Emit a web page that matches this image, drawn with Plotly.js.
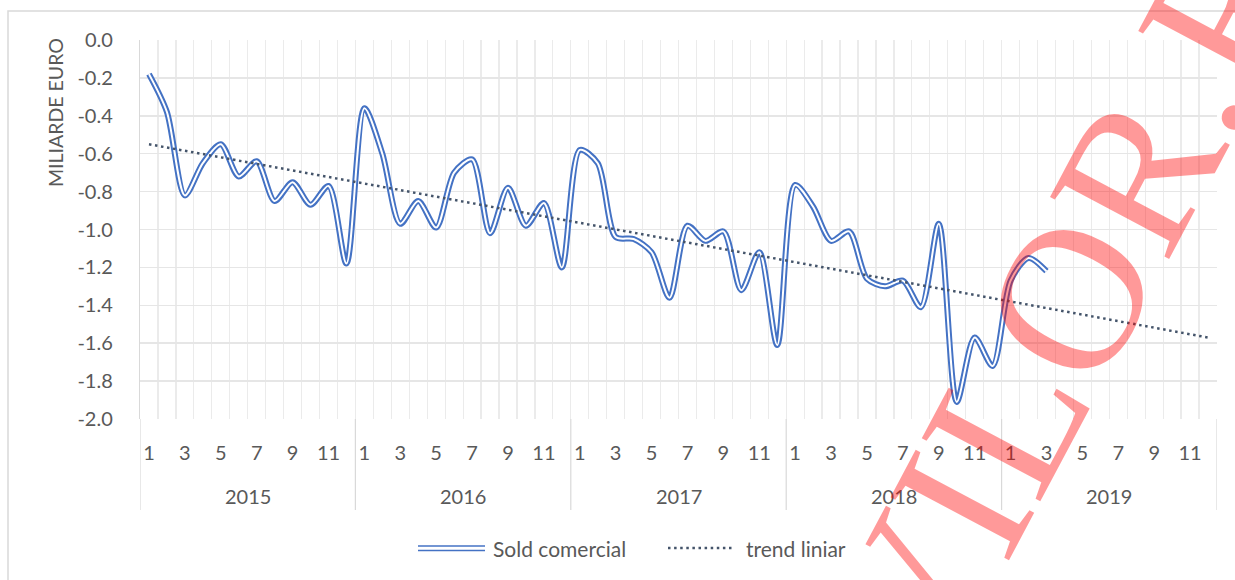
<!DOCTYPE html>
<html>
<head>
<meta charset="utf-8">
<script src="https://cdn.plot.ly/plotly-3.0.1.min.js"></script>
<style>html,body{margin:0;padding:0;background:#fff;}#chart{width:1235px;height:580px;}</style>
</head>
<body>
<div id="chart"></div>
<script>
// ---- data ----
const years = ['2015', '2016', '2017', '2018', '2019'];
const monthTickLabels = ['1', '3', '5', '7', '9', '11'];
const soldComercial = [
  -0.18, -0.38, -0.82, -0.65, -0.55, -0.72, -0.64, -0.85, -0.75, -0.87, -0.77, -1.18,
  -0.36, -0.60, -0.97, -0.85, -0.99, -0.70, -0.63, -1.02, -0.78, -0.98, -0.86, -1.20,
  -0.58, -0.65, -1.04, -1.05, -1.12, -1.36, -0.98, -1.06, -1.01, -1.32, -1.12, -1.61,
  -0.765, -0.88, -1.06, -1.01, -1.26, -1.30, -1.27, -1.41, -0.97, -1.91, -1.57, -1.72,
  -1.27, -1.15, -1.22
];
const trendMonths = [1, 60];
const trendLiniar = [-0.55, -1.57];
const yTickVals = [0, -0.2, -0.4, -0.6, -0.8, -1.0, -1.2, -1.4, -1.6, -1.8, -2.0];
const yTickText = ['0.0', '-0.2', '-0.4', '-0.6', '-0.8', '-1.0', '-1.2', '-1.4', '-1.6', '-1.8', '-2.0'];
const seriesNames = ['Sold comercial', 'trend liniar'];
const yTitle = 'MILIARDE EURO';
const watermark = 'VILOR.RO';

// ---- derived positions ----
const monthsPerYear = 12;
const totalMonths = years.length * monthsPerYear;
const xData = soldComercial.map((_, i) => i + 1);
const xTickVals = [], xTickText = [];
years.forEach((y, yi) => monthTickLabels.forEach(m => { xTickVals.push(yi * 12 + Number(m)); xTickText.push(m); }));
const boundaries = [];
for (let i = 0; i <= totalMonths; i++) boundaries.push(i + 0.5);

// pixel helpers for paper coords (plot area: x 140..1217, y 40..419)
const L = 140, R = 1217, T = 40, B = 419;
const px = v => (v - L) / (R - L);
const py = v => (B - v) / (B - T);

const txtColor = '#595959';
const font = 'Lato, "Open Sans", sans-serif';
const blue = '#4472C4';

const traces = [
  { x: xData, y: soldComercial, type: 'scatter', mode: 'lines', name: seriesNames[0],
    line: { color: blue, width: 6, shape: 'spline', smoothing: 0.8 }, showlegend: false, hoverinfo: 'skip' },
  { x: xData, y: soldComercial, type: 'scatter', mode: 'lines', name: seriesNames[0] + ' inner',
    line: { color: '#ffffff', width: 2, shape: 'spline', smoothing: 0.8 }, showlegend: false, hoverinfo: 'skip' },
  { x: trendMonths, y: trendLiniar, type: 'scatter', mode: 'lines', name: seriesNames[1],
    line: { color: '#44546A', width: 2.5, dash: '2.5px,3.6px' }, showlegend: false, hoverinfo: 'skip' }
];

const shapes = [];
// outer chart frame
shapes.push({ type: 'rect', xref: 'paper', yref: 'paper', x0: px(8), x1: px(1245), y0: py(600), y1: py(11),
  line: { color: '#d9d9d9', width: 1.5 }, layer: 'below' });
// year separators
for (let i = 0; i <= years.length; i++) {
  shapes.push({ type: 'line', xref: 'x', yref: 'paper', x0: i * 12 + 0.5, x1: i * 12 + 0.5, y0: 0, y1: py(510),
    line: { color: '#d9d9d9', width: 1.2 }, layer: 'below' });
}
// legend symbols
shapes.push({ type: 'line', xref: 'paper', yref: 'paper', x0: px(418), x1: px(485), y0: py(546), y1: py(546), line: { color: blue, width: 1.6 } });
shapes.push({ type: 'line', xref: 'paper', yref: 'paper', x0: px(418), x1: px(485), y0: py(550.5), y1: py(550.5), line: { color: blue, width: 1.6 } });
shapes.push({ type: 'line', xref: 'paper', yref: 'paper', x0: px(668), x1: px(734), y0: py(548), y1: py(548), line: { color: '#44546A', width: 2.5, dash: '2.5px,3.6px' } });

const annotations = [];
years.forEach((y, i) => annotations.push({ text: y, xref: 'x', yref: 'paper', x: i * 12 + 6.5, y: py(496),
  showarrow: false, xanchor: 'center', yanchor: 'middle', font: { family: font, size: 20, color: txtColor } }));
annotations.push({ text: yTitle, xref: 'paper', yref: 'paper', x: px(55), y: py(113), textangle: -90,
  showarrow: false, xanchor: 'center', yanchor: 'middle', font: { family: font, size: 19.5, color: txtColor } });
annotations.push({ text: seriesNames[0], xref: 'paper', yref: 'paper', x: px(491), y: py(548),
  showarrow: false, xanchor: 'left', yanchor: 'middle', font: { family: font, size: 21, color: txtColor } });
annotations.push({ text: seriesNames[1], xref: 'paper', yref: 'paper', x: px(744), y: py(548),
  showarrow: false, xanchor: 'left', yanchor: 'middle', font: { family: font, size: 21, color: txtColor } });
annotations.push({ text: watermark, xref: 'paper', yref: 'paper', x: px(1100), y: py(240), textangle: -62,
  showarrow: false, xanchor: 'center', yanchor: 'middle', font: { family: '"Liberation Serif", "DejaVu Serif", serif', size: 205, color: 'rgba(255,0,0,0.4)' } });

const layout = {
  width: 1235, height: 580,
  margin: { l: L, r: 1235 - R, t: T, b: 580 - B, pad: 0 },
  paper_bgcolor: '#ffffff', plot_bgcolor: '#ffffff',
  showlegend: false,
  xaxis: {
    range: [0.5, totalMonths + 0.5], tickmode: 'array', tickvals: xTickVals, ticktext: xTickText,
    showgrid: false, zeroline: false, showline: false, ticks: '', ticklabelstandoff: 20,
    tickfont: { family: font, size: 20, color: txtColor },
    minor: { tickmode: 'array', tickvals: boundaries, showgrid: true, gridcolor: '#ebebeb', gridwidth: 1.2, ticks: '' }
  },
  yaxis: {
    range: [-2.0, 0.0], tickmode: 'array', tickvals: yTickVals, ticktext: yTickText,
    showgrid: true, gridcolor: '#e6e6e6', gridwidth: 1.5, zeroline: false,
    showline: true, linecolor: '#d9d9d9', linewidth: 1.2, ticks: '', ticklabelstandoff: 22,
    tickfont: { family: font, size: 20, color: txtColor }
  },
  shapes: shapes,
  annotations: annotations
};

Plotly.newPlot('chart', traces, layout, { staticPlot: true, displayModeBar: false });
</script>
</body>
</html>
